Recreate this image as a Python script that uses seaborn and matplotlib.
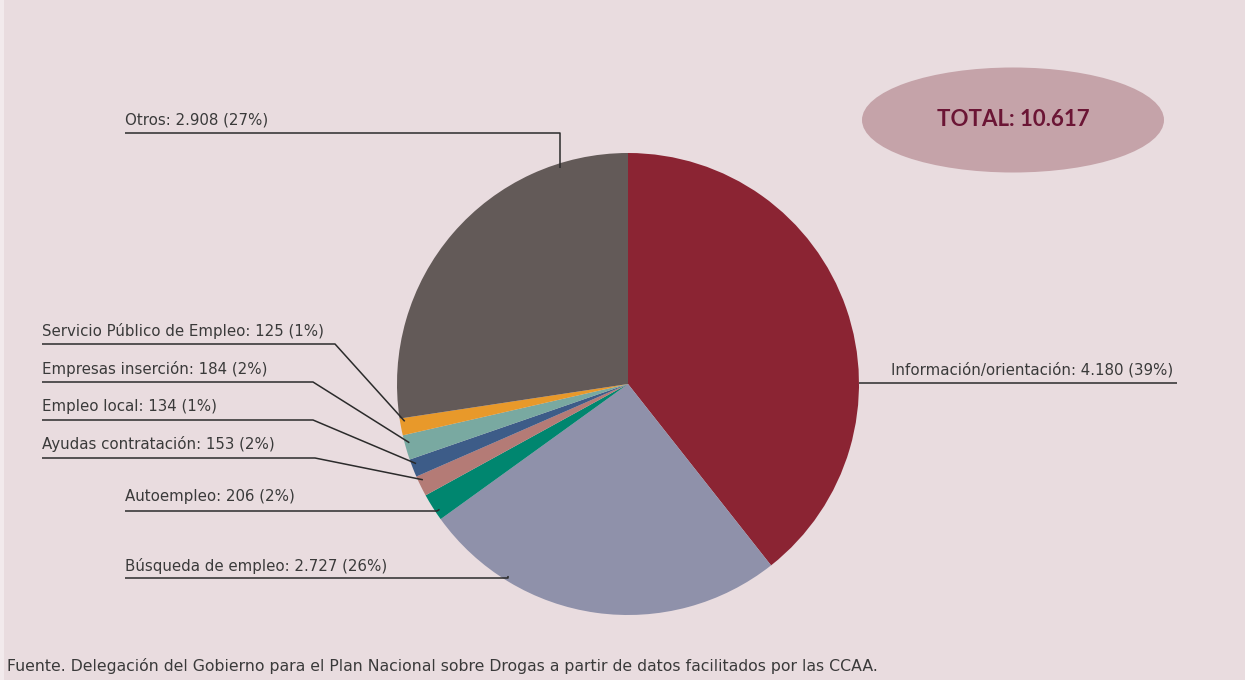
import numpy as np
import matplotlib
matplotlib.use("Agg")
import matplotlib.pyplot as plt
import seaborn as sns
from matplotlib.patches import Ellipse, Rectangle

# -----------------------------
# Data
# -----------------------------
categories = [
    "Información/orientación",
    "Búsqueda de empleo",
    "Autoempleo",
    "Ayudas contratación",
    "Empleo local",
    "Empresas inserción",
    "Servicio Público de Empleo",
    "Otros",
]
values = [4180, 2727, 206, 153, 134, 184, 125, 2908]
percents = [39, 26, 2, 2, 1, 2, 1, 27]  # as printed in the source (sums to 100)
colors = ["#8B2433", "#8F91AA", "#00866F", "#B47B76", "#3D5C88",
          "#79A9A1", "#E8992A", "#635A58"]

source = "Fuente. Delegación del Gobierno para el Plan Nacional sobre Drogas a partir de datos facilitados por las CCAA."

# -----------------------------
# Layout (pixel coords, y down)
# text x, text y, underline y, bend x, anchor fraction along wedge
# -----------------------------
W, H = 1245, 680
CX, CY, R = 628, 384, 231
label_layout = {
    "Información/orientación":    (891, 370, 383, 1177, 0.635),
    "Búsqueda de empleo":         (125, 566, 578, 508, 0.76),
    "Autoempleo":                 (125, 497, 511, 437, 0.31),
    "Ayudas contratación":        (42, 444, 458, 315, 0.73),
    "Empleo local":               (42, 406, 420, 313, 0.67),
    "Empresas inserción":         (42, 369, 382, 313, 0.65),
    "Servicio Público de Empleo": (42, 331, 344, 335, 0.79),
    "Otros":                      (125, 120, 133, 560, 0.823),
}

sns.set_theme(style="white")
plt.rcParams["font.family"] = ["DejaVu Sans"]

fig = plt.figure(figsize=(W / 100, H / 100), dpi=100, facecolor="#F2EAEC")
ax = fig.add_axes([0, 0, 1, 1])

# pie: y axis is inverted (pixel coords), so counterclock in data = clockwise on screen
wedges, _ = ax.pie(values, colors=colors, startangle=-90, counterclock=True,
                   center=(CX, CY), radius=R, wedgeprops=dict(linewidth=0))
ax.set_xlim(0, W)
ax.set_ylim(H, 0)
ax.set_aspect("equal")
ax.axis("off")

# panel background
ax.add_patch(Rectangle((4, 0), W - 4, H, facecolor="#E9DCDF", edgecolor="none", zorder=-5))

def fmt(v):
    return f"{v:,}".replace(",", ".")

line_kw = dict(color="#2B2B2B", linewidth=1.1, solid_capstyle="butt", zorder=5)
text_kw = dict(fontsize=10.8, color="#3A3A3A", va="center", ha="left", zorder=6)

for cat, val, pct, w in zip(categories, values, percents, wedges):
    tx, ty, uy, bx, frac = label_layout[cat]
    th = np.deg2rad(w.theta1 + frac * (w.theta2 - w.theta1))
    rr = R if cat == "Información/orientación" else R * 0.98
    axp, ayp = CX + rr * np.cos(th), CY + rr * np.sin(th)
    ax.text(tx, ty, f"{cat}: {fmt(val)} ({pct}%)", **text_kw)
    if cat == "Información/orientación":
        ax.plot([axp, bx], [uy, uy], **line_kw)
    elif cat == "Otros":
        # straight drop into the wedge
        ax.plot([tx, bx, bx], [uy, uy, ayp], **line_kw)
    else:
        ax.plot([tx, bx, axp], [uy, uy, ayp], **line_kw)

# total bubble
ax.add_patch(Ellipse((1013, 120), 302, 105, facecolor="#C5A3A9", edgecolor="none", zorder=4))
ax.text(1013, 119, f"TOTAL: {fmt(sum(values))}", ha="center", va="center",
        fontsize=16, fontweight="bold", color="#6B1535", zorder=6,
        family=["Lato", "DejaVu Sans"])

ax.text(7, 666, source, fontsize=11.3, color="#3A3A3A", ha="left", va="center")

fig.savefig("out.png", dpi=100, facecolor=fig.get_facecolor())
